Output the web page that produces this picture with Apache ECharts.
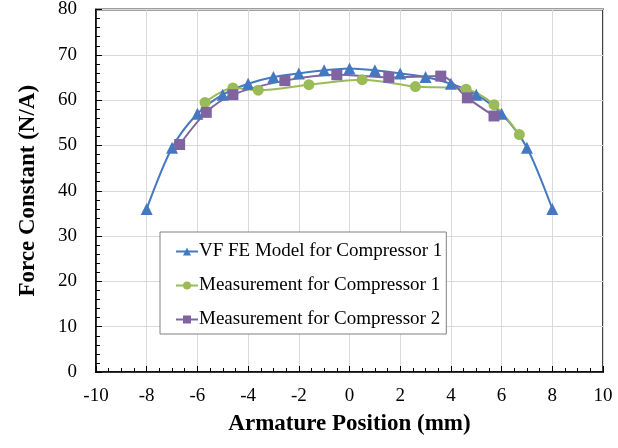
<!DOCTYPE html>
<html>
<head>
<meta charset="utf-8">
<script src="https://cdn.jsdelivr.net/npm/echarts@6/dist/echarts.min.js"></script>
<style>
html,body{margin:0;padding:0;background:#fff;}
#chart{width:618px;height:448px;}
</style>
</head>
<body>
<div id="chart"></div>
<script>
const seriesNames = ['VF FE Model for Compressor 1', 'Measurement for Compressor 1', 'Measurement for Compressor 2'];
const modelX = [-8, -7, -6, -5, -4, -3, -2, -1, 0, 1, 2, 3, 4, 5, 6, 7, 8];
const modelY = [36, 49.5, 57, 61.2, 63.6, 65.1, 65.9, 66.6, 67, 66.6, 65.9, 65.1, 63.6, 61.2, 57, 49.5, 36];
const meas1X = [-5.7, -4.6, -3.6, -1.6, 0.5, 2.6, 4.6, 5.7, 6.7];
const meas1Y = [59.5, 62.7, 62.2, 63.4, 64.5, 63.0, 62.4, 59.0, 52.4];
const meas2X = [-6.7, -5.65, -4.6, -2.55, -0.5, 1.55, 3.6, 4.65, 5.7];
const meas2Y = [50.2, 57.3, 61.2, 64.3, 65.6, 65.0, 65.3, 60.5, 56.5];
const xTicks = {min: -10, max: 10, interval: 2};
const yTicks = {min: 0, max: 80, interval: 10};

const pair = (xs, ys) => xs.map((x, i) => [x, ys[i]]);
const FONT = 'Liberation Serif';

const chart = echarts.init(document.getElementById('chart'), null, {renderer: 'canvas'});
chart.setOption({
  animation: false,
  backgroundColor: '#fff',
  grid: {left: 96, right: 15, top: 9, bottom: 76, show: true, borderColor: '#404040', borderWidth: 2},
  xAxis: {
    type: 'value', min: xTicks.min, max: xTicks.max, interval: xTicks.interval,
    name: 'Armature Position (mm)', nameLocation: 'middle', nameGap: 41,
    nameTextStyle: {fontFamily: FONT, fontWeight: 'bold', fontSize: 23, color: '#000'},
    axisLine: {show: true, onZero: false, lineStyle: {color: '#000', width: 1.5}},
    axisTick: {show: true, inside: true, length: 6, lineStyle: {color: '#000'}},
    minorTick: {show: true, splitNumber: 4, length: 4, lineStyle: {color: '#000'}},
    axisLabel: {fontFamily: FONT, fontSize: 19, color: '#000', margin: 15},
    splitLine: {show: true, lineStyle: {color: '#d9d9d9', width: 1}}
  },
  yAxis: {
    type: 'value', min: yTicks.min, max: yTicks.max, interval: yTicks.interval,
    name: 'Force Constant (N/A)', nameLocation: 'middle', nameGap: 56,
    nameTextStyle: {fontFamily: FONT, fontWeight: 'bold', fontSize: 23, color: '#000'},
    axisLine: {show: true, onZero: false, lineStyle: {color: '#000', width: 1.5}},
    axisTick: {show: true, inside: true, length: 6, lineStyle: {color: '#000'}},
    minorTick: {show: true, splitNumber: 5, length: 4, lineStyle: {color: '#000'}},
    axisLabel: {fontFamily: FONT, fontSize: 19, color: '#000', margin: 19},
    splitLine: {show: true, lineStyle: {color: '#d9d9d9', width: 1}}
  },
  legend: {
    orient: 'vertical', left: 160, top: 232,
    padding: [10, 4, 5, 15], itemGap: 15, itemWidth: 22, itemHeight: 10,
    backgroundColor: '#fff', borderColor: '#808080', borderWidth: 1,
    textStyle: {fontFamily: FONT, fontSize: 19, color: '#000', padding: [0, 0, 0, -4]},
    data: seriesNames
  },
  series: [
    {name: seriesNames[0], type: 'line', data: pair(modelX, modelY), smooth: 0.3,
     symbol: 'triangle', symbolSize: 12,
     lineStyle: {color: '#4479C1', width: 2}, itemStyle: {color: '#4479C1'}},
    {name: seriesNames[1], type: 'line', data: pair(meas1X, meas1Y), smooth: 0.3,
     symbol: 'circle', symbolSize: 11,
     lineStyle: {color: '#9BBB59', width: 2}, itemStyle: {color: '#9BBB59'}},
    {name: seriesNames[2], type: 'line', data: pair(meas2X, meas2Y), smooth: 0.3,
     symbol: 'rect', symbolSize: 11,
     lineStyle: {color: '#8064A2', width: 2}, itemStyle: {color: '#8064A2'}}
  ]
});
</script>
</body>
</html>
